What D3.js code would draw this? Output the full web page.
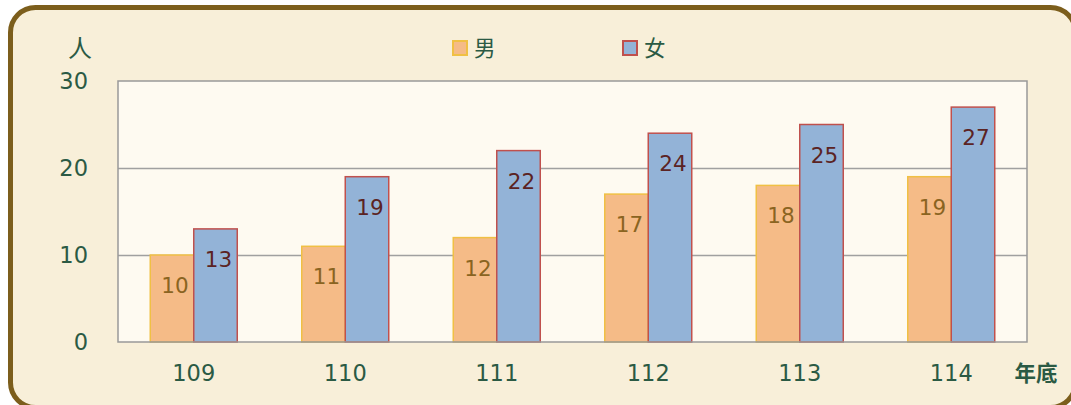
<!DOCTYPE html>
<head>
  <meta charset="utf-8">
  <script src="https://d3js.org/d3.v7.min.js"></script>
  <style>
    body { margin: 0; background: #fff; }
    text { font-family: "DejaVu Sans", "Noto Sans CJK TC", sans-serif; }
  </style>
</head>
<body>
  <div class="chart"></div>
  <script>
    var years = ["109", "110", "111", "112", "113", "114"];
    var male = [10, 11, 12, 17, 18, 19];
    var female = [13, 19, 22, 24, 25, 27];
    var yTicks = [0, 10, 20, 30];

    (function() {
      var width = 1071, height = 405;
      var svg = d3.select(".chart").append("svg")
        .attr("width", width).attr("height", height);

      // outer rounded frame
      svg.append("rect")
        .attr("x", 10.5).attr("y", 7.5)
        .attr("width", 1065).attr("height", 400)
        .attr("rx", 25).attr("ry", 25)
        .attr("fill", "#f8efd9")
        .attr("stroke", "#7c5e1c")
        .attr("stroke-width", 5);

      var left = 118, right = 1027, top = 81, bottom = 342;

      var x = d3.scaleBand().domain(years).range([left, right]).paddingInner(0).paddingOuter(0);
      var y = d3.scaleLinear().domain([0, 30]).range([bottom, top]);

      svg.append("rect")
        .attr("x", left).attr("y", top)
        .attr("width", right - left).attr("height", bottom - top)
        .attr("fill", "#fefaf1");

      // gridlines
      svg.selectAll(".grid").data(yTicks.slice(1, 3)).enter().append("line")
        .attr("x1", left).attr("x2", right)
        .attr("y1", function(d) { return y(d) + 0.5 })
        .attr("y2", function(d) { return y(d) + 0.5 })
        .attr("stroke", "#a0a0a0").attr("stroke-width", 1.5);

      var barW = 43.5;
      var series = [
        { name: "男", values: male, fill: "#f5bb87", stroke: "#f0c044", label: "#8a6421", off: -barW },
        { name: "女", values: female, fill: "#93b3d7", stroke: "#c0504d", label: "#5b2323", off: 0 }
      ];

      series.forEach(function(s) {
        svg.selectAll(null).data(s.values).enter().append("rect")
          .attr("x", function(d, i) { return x(years[i]) + x.bandwidth() / 2 + s.off })
          .attr("y", function(d) { return y(d) })
          .attr("width", barW)
          .attr("height", function(d) { return bottom - y(d) })
          .attr("fill", s.fill)
          .attr("stroke", s.stroke)
          .attr("stroke-width", 1.5);

        svg.selectAll(null).data(s.values).enter().append("text")
          .attr("x", function(d, i) { return x(years[i]) + x.bandwidth() / 2 + s.off + barW / 2 + 3 })
          .attr("y", function(d) { return y(d) + 38 })
          .attr("text-anchor", "middle")
          .attr("font-size", 21.5)
          .attr("fill", s.label)
          .text(function(d) { return d });
      });

      // plot border
      svg.append("rect")
        .attr("x", left).attr("y", top)
        .attr("width", right - left).attr("height", bottom - top)
        .attr("fill", "none")
        .attr("stroke", "#999").attr("stroke-width", 1.5);

      // y axis labels
      svg.selectAll(".ytick").data(yTicks).enter().append("text")
        .attr("x", 88)
        .attr("y", function(d) { return y(d) + 8 })
        .attr("text-anchor", "end")
        .attr("font-size", 22.5)
        .attr("fill", "#2b5a44")
        .text(function(d) { return d });

      // x axis labels
      svg.selectAll(".xtick").data(years).enter().append("text")
        .attr("x", function(d) { return x(d) + x.bandwidth() / 2 })
        .attr("y", 381)
        .attr("text-anchor", "middle")
        .attr("font-size", 22.5)
        .attr("fill", "#2b5a44")
        .text(function(d) { return d });

      svg.append("text")
        .attr("x", 80).attr("y", 57)
        .attr("text-anchor", "middle")
        .attr("font-size", 24)
        .attr("fill", "#2b5a44")
        .text("人");

      svg.append("text")
        .attr("x", 1036).attr("y", 381)
        .attr("text-anchor", "middle")
        .attr("font-size", 21.5)
        .attr("font-weight", "bold")
        .attr("fill", "#2b5a44")
        .text("年底");

      // legend
      var legX = [452, 622];
      series.forEach(function(s, i) {
        svg.append("rect")
          .attr("x", legX[i] + 1).attr("y", 41)
          .attr("width", 14).attr("height", 14)
          .attr("fill", s.fill)
          .attr("stroke", s.stroke)
          .attr("stroke-width", 2);
        svg.append("text")
          .attr("x", legX[i] + 22).attr("y", 56)
          .attr("font-size", 21.5)
          .attr("fill", "#2b5a44")
          .text(s.name);
      });
    })();
  </script>
</body>
